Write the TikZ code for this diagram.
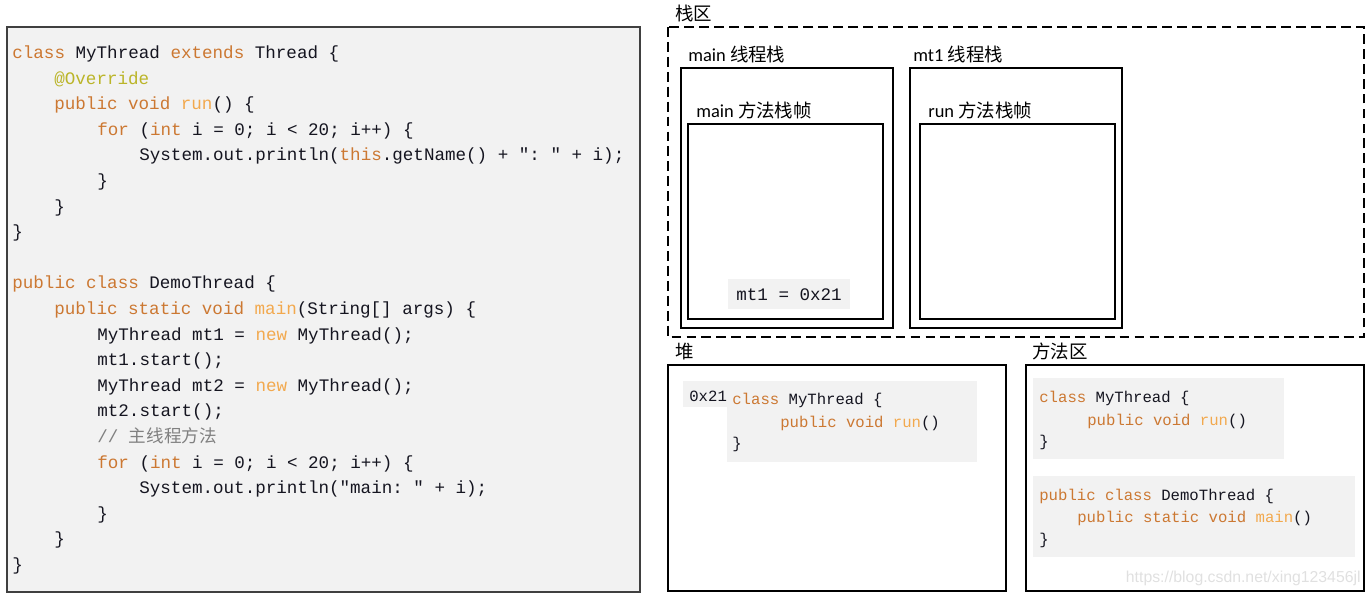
\documentclass[tikz,border=0pt]{standalone}
\usepackage{fontspec}
\setmainfont{Carlito}
\setmonofont{Liberation Mono}
\newfontfamily\cjk{Noto Sans CJK SC}
\newfontfamily\wmfont{Liberation Sans}

\definecolor{kwcol}{HTML}{CC7832}
\definecolor{fncol}{HTML}{F2A94E}
\definecolor{ancol}{HTML}{BBB529}
\definecolor{cmcol}{HTML}{808080}
\definecolor{txtcol}{HTML}{151520}
\definecolor{codebg}{HTML}{F2F2F2}

\newcommand{\kwd}[1]{\textcolor{kwcol}{#1}}
\newcommand{\fnm}[1]{\textcolor{fncol}{#1}}
\newcommand{\ann}[1]{\textcolor{ancol}{#1}}
\newcommand{\cmt}[1]{\textcolor{cmcol}{#1}}

\tikzset{
	codeline/.style={anchor=base west, inner sep=0pt, text=txtcol, font=\ttfamily\fontsize{10}{12}\selectfont},
	smallcode/.style={anchor=base west, inner sep=0pt, text=txtcol, font=\ttfamily\fontsize{8.9}{11}\selectfont},
	area/.style={anchor=base west, inner sep=0pt, font=\fontsize{10.5}{12}\selectfont},
	frame/.style={line width=1.1pt},
}

\begin{document}
\begin{tikzpicture}[x=0.02cm, y=-0.02cm]
			\useasboundingbox (0,0) rectangle (1366,593);
			% code on the left
			\draw [draw=black!75, fill=codebg, line width=0.6pt] (7,27) rectangle (640,592);
			\node [codeline] (l1) at (12,58) {\kwd{class} MyThread \kwd{extends} Thread \{};
			\node [codeline] (l2) at (54,84) {\ann{@Override}};
			\node [codeline] (l3) at (54,109) {\kwd{public void} \fnm{run}() \{};
			\node [codeline] (l4) at (97,135) {\kwd{for} (\kwd{int} i = 0; i < 20; i++) \{};
			\node [codeline] (l5) at (139,160) {System.out.println(\kwd{this}.getName() + ": " + i);};
			\node [codeline] (l6) at (97,186) {\}};
			\node [codeline] (l7) at (54,212) {\}};
			\node [codeline] (l8) at (12,237) {\}};
			\node [codeline] (l9) at (12,288) {\kwd{public class} DemoThread \{};
			\node [codeline] (l10) at (54,314) {\kwd{public static void} \fnm{main}(String[] args) \{};
			\node [codeline] (l11) at (97,340) {MyThread mt1 = \fnm{new} MyThread();};
			\node [codeline] (l12) at (97,365) {mt1.start();};
			\node [codeline] (l13) at (97,391) {MyThread mt2 = \fnm{new} MyThread();};
			\node [codeline] (l14) at (97,416) {mt2.start();};
			\node [codeline] (l15) at (97,442) {\cmt{// {\cjk 主线程方法}}};
			\node [codeline] (l16) at (97,468) {\kwd{for} (\kwd{int} i = 0; i < 20; i++) \{};
			\node [codeline] (l17) at (139,493) {System.out.println("main: " + i);};
			\node [codeline] (l18) at (97,519) {\}};
			\node [codeline] (l19) at (54,544) {\}};
			\node [codeline] (l20) at (12,570) {\}};
			% stack
			\draw [frame, dash pattern=on 5.6pt off 2.9pt] (668,27) rectangle (1364,337);
			\node [area] (stacklbl) at (675,20) {\cjk 栈区};
			\draw [frame] (681,68) rectangle (893,328);
			\node [area] (mainlbl) at (688,61) {main {\cjk 线程栈}};
			\draw [frame] (688,124) rectangle (883,319);
			\node [area] (mainframelbl) at (696,117) {main {\cjk 方法栈帧}};
			\fill [codebg] (728,279) rectangle (850,309);
			\node [codeline] (mtref) at (736,300) {mt1 = 0x21};
			\draw [frame] (910,68) rectangle (1122,328);
			\node [area] (mtlbl) at (913,61) {mt1 {\cjk 线程栈}};
			\draw [frame] (920,124) rectangle (1115,319);
			\node [area] (runframelbl) at (928,117) {run {\cjk 方法栈帧}};
			% heap
			\draw [frame] (668,365) rectangle (1006,591);
			\node [area] (heaplbl) at (675,358) {\cjk 堆};
			\fill [codebg] (683,381) rectangle (727,407);
			\fill [codebg] (727,381) rectangle (977,462);
			\node [smallcode] (addr) at (689,401) {0x21};
			\node [smallcode] (h1) at (732,404) {\kwd{class} MyThread \{};
			\node [smallcode] (h2) at (780,427) {\kwd{public void} \fnm{run}()};
			\node [smallcode] (h3) at (732,448) {\}};
			% method area
			\draw [frame] (1026,365) rectangle (1364,591);
			\node [area] (methodlbl) at (1032,358) {\cjk 方法区};
			\fill [codebg] (1033,378) rectangle (1284,459);
			\node [smallcode] (m1) at (1039,402) {\kwd{class} MyThread \{};
			\node [smallcode] (m2) at (1087,425) {\kwd{public void} \fnm{run}()};
			\node [smallcode] (m3) at (1039,446) {\}};
			\fill [codebg] (1033,476) rectangle (1355,557);
			\node [smallcode] (m4) at (1039,500) {\kwd{public class} DemoThread \{};
			\node [smallcode] (m5) at (1077,522) {\kwd{public static void} \fnm{main}()};
			\node [smallcode] (m6) at (1039,544) {\}};
			\node [anchor=base east, inner sep=0pt, text=black!12, font=\wmfont\fontsize{9}{10}\selectfont] (mark) at (1361,582) {https://blog.csdn.net/xing123456jl};
		\end{tikzpicture}
\end{document}
